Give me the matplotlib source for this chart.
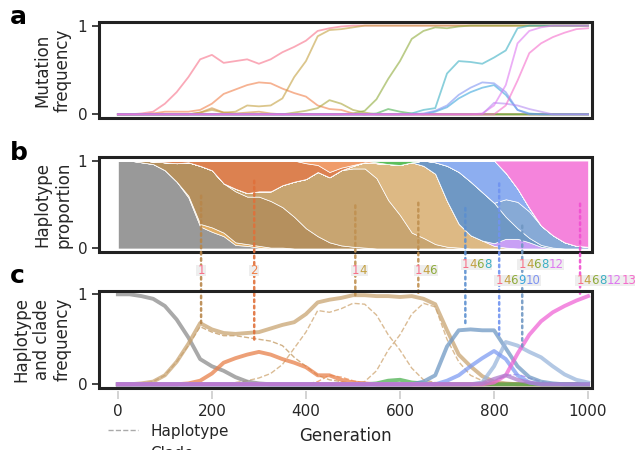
import matplotlib
matplotlib.use("Agg")
import matplotlib.pyplot as plt
from matplotlib.patches import Rectangle, ConnectionPatch
from matplotlib.lines import Line2D
from matplotlib.transforms import Bbox

# sampling grid (generations)
gens = list(range(0, 1001, 25))

# ---- panel a: mutation frequencies
mut1 = [0, 0, 0.01, 0.03, 0.12, 0.25, 0.42, 0.62, 0.67, 0.58, 0.6, 0.62, 0.57, 0.62, 0.7, 0.76,
        0.83, 0.94, 0.97, 0.99, 1] + [1] * 20
mut2 = [0, 0, 0, 0.01, 0.03, 0.03, 0.03, 0.05, 0.12, 0.23, 0.28, 0.33, 0.36, 0.35, 0.29, 0.24,
        0.2, 0.1, 0.06, 0.05, 0.01] + [0] * 20
mut3 = [0, 0, 0, 0, 0, 0, 0, 0.02, 0.07, 0.02, 0.01, 0.02, 0.03, 0.01] + [0] * 27
mut4 = [0, 0, 0, 0, 0, 0, 0, 0.02, 0.05, 0.02, 0.03, 0.1, 0.09, 0.1, 0.18, 0.42, 0.6, 0.88,
        0.95, 0.96, 0.98] + [1] * 20
mut5 = [0] * 15 + [0.02, 0.04, 0.07, 0.16, 0.12, 0.05, 0.02] + [0] * 19
mut6 = [0] * 20 + [0.01, 0.04, 0.17, 0.4, 0.6, 0.85, 0.94, 0.98, 0.97, 0.99] + [1] * 11
mut7 = [0] * 22 + [0.01, 0.06, 0.03, 0.01] + [0] * 15
mut8 = [0] * 25 + [0.01, 0.05, 0.07, 0.46, 0.6, 0.59, 0.57, 0.64, 0.72, 0.97] + [1] * 6
mut9 = [0] * 27 + [0.03, 0.08, 0.18, 0.25, 0.3, 0.33, 0.22, 0.05, 0.01] + [0] * 5
mut10 = [0] * 26 + [0.01, 0.04, 0.1, 0.22, 0.3, 0.36, 0.35, 0.25, 0.05] + [0] * 6
mut11 = [0] * 32 + [0.13, 0.12, 0.1, 0.06, 0.03] + [0] * 4
mut12 = [0] * 31 + [0.01, 0.1, 0.33, 0.8, 0.94, 0.98] + [1] * 4
mut13 = [0] * 33 + [0.1, 0.38, 0.69, 0.8, 0.87, 0.92, 0.96, 0.97]
mutations = [mut1, mut2, mut3, mut4, mut5, mut6, mut7, mut8, mut9, mut10, mut11, mut12, mut13]

mcol = {1: '#f77189', 2: '#f0804a', 3: '#d09040', 4: '#c4a040', 5: '#aaa53a', 6: '#8fab3b',
        7: '#4cb050', 8: '#3cb0c4', 9: '#3aa6dc', 10: '#7f94f2', 11: '#b58cf2', 12: '#de78f0',
        13: '#f56ccc'}

# ---- panel b: haplotype proportions (stack order bottom -> top)
hap_wt = [1, 1, 0.98, 0.96, 0.89, 0.76, 0.58, 0.25, 0.19, 0.14, 0.04, 0.03, 0.01] + [0] * 28
hap_13 = [0] * 6 + [0.02, 0.03, 0.05, 0.04, 0.03, 0.02, 0.02, 0.01, 0.01] + [0] * 26
hap_1 = [0, 0, 0.02, 0.03, 0.09, 0.21, 0.38, 0.66, 0.65, 0.56, 0.58, 0.54, 0.56, 0.53, 0.46,
         0.36, 0.23, 0.14, 0.07, 0.035, 0.02, 0.01] + [0] * 19
hap_14 = [0] * 10 + [0.03, 0.04, 0.06, 0.11, 0.25, 0.40, 0.56, 0.73, 0.74, 0.855, 0.89, 0.90,
                     0.80, 0.55, 0.38, 0.18, 0.12, 0.05, 0.02, 0.01] + [0] * 11
hap_146 = [0] * 20 + [0.03, 0.07, 0.17, 0.41, 0.57, 0.80, 0.82, 0.80, 0.52, 0.27, 0.15, 0.09,
                      0.03, 0.01] + [0] * 7
hap_146811 = [0] * 32 + [0.03, 0.10, 0.11, 0.07, 0.02] + [0] * 4
hap_1468 = [0] * 26 + [0.06, 0.13, 0.40, 0.59, 0.61, 0.55, 0.46, 0.25, 0.12, 0.05, 0.02,
                       0.01] + [0] * 3
hap_146812 = [0] * 33 + [0.20, 0.30, 0.30, 0.22, 0.14, 0.07, 0.03, 0.02]
hap_146910 = [0] * 27 + [0.02, 0.06, 0.13, 0.24, 0.36, 0.48, 0.30, 0.15, 0.04] + [0] * 5
hap_2 = [0, 0, 0, 0.01, 0.02, 0.03, 0.02, 0.06, 0.11, 0.26, 0.32, 0.37, 0.35, 0.35, 0.28, 0.24,
         0.18, 0.08, 0.06, 0.03, 0.01] + [0] * 20
hap_145 = [0] * 16 + [0.03, 0.05, 0.13, 0.08, 0.05, 0.02, 0.01] + [0] * 18
hap_1467 = [0] * 22 + [0.02, 0.04, 0.05, 0.02] + [0] * 15
hap_14681213 = [0] * 33 + [0.14, 0.32, 0.54, 0.74, 0.85, 0.93, 0.97, 0.98]
haplotypes = [hap_wt, hap_13, hap_1, hap_14, hap_146, hap_146811, hap_1468, hap_146812,
              hap_146910, hap_2, hap_145, hap_1467, hap_14681213]
hcols = ['#999999', '#e1ad63', '#b5905e', '#c8a571', '#ddb984', '#c8a0f5', '#6f98c4',
         '#87aad6', '#8daef0', '#dc8150', '#f09c6a', '#5cbf5c', '#f584dc']

# ---- panel c: clade (solid) and haplotype (dashed) frequencies
clade_wt = [1, 1, 0.98, 0.95, 0.87, 0.72, 0.52, 0.28, 0.2, 0.15, 0.08, 0.03, 0.01] + [0] * 28
clade_1 = [0, 0, 0.01, 0.03, 0.1, 0.25, 0.45, 0.68, 0.61, 0.57, 0.56, 0.57, 0.58, 0.62, 0.66,
           0.69, 0.78, 0.91, 0.94, 0.96, 0.99, 0.99, 0.98, 0.98, 0.97, 0.98, 0.95, 0.89, 0.6,
           0.33, 0.2, 0.09, 0.03, 0.01] + [0] * 7
clade_2 = [0] * 6 + [0.01, 0.04, 0.12, 0.24, 0.29, 0.33, 0.36, 0.33, 0.28, 0.24, 0.19, 0.1,
                    0.1, 0.05, 0.02, 0.01] + [0] * 19
clade_7 = [0] * 22 + [0.01, 0.04, 0.05, 0.02, 0.01] + [0] * 14
clade_1468 = [0] * 26 + [0.03, 0.1, 0.42, 0.6, 0.61, 0.6, 0.6, 0.4, 0.2, 0.08, 0.03, 0.01] + [0] * 3
clade_146812 = [0] * 31 + [0.02, 0.2, 0.47, 0.43, 0.36, 0.3, 0.2, 0.11, 0.05, 0.02]
clade_146910 = [0] * 28 + [0.04, 0.1, 0.2, 0.29, 0.37, 0.28, 0.1, 0.02] + [0] * 5
clade_11 = [0] * 31 + [0.01, 0.06, 0.1, 0.05, 0.02] + [0] * 5
clade_13 = [0] * 32 + [0.02, 0.1, 0.34, 0.55, 0.7, 0.8, 0.87, 0.93, 0.98]
clades = [clade_wt, clade_1, clade_2, clade_7, clade_1468, clade_146812, clade_146910,
          clade_13, clade_11]
ccols = ['#8c8c8c', '#c9a472', '#e8804a', '#4cb050', '#6f98c4', '#9ab6dc', '#7f9cf2',
         '#f066d6', '#b07ccc']

dhap_1 = [0, 0, 0.01, 0.03, 0.1, 0.25, 0.43, 0.64, 0.58, 0.54, 0.54, 0.52, 0.5, 0.48, 0.43,
          0.3, 0.2, 0.1, 0.05, 0.03, 0.01] + [0] * 20
dhap_14 = [0] * 10 + [0.02, 0.04, 0.07, 0.12, 0.22, 0.4, 0.58, 0.82, 0.8, 0.84, 0.9, 0.89,
                      0.77, 0.55, 0.38, 0.18, 0.05, 0.02, 0.01] + [0] * 12
dhap_146 = [0] * 21 + [0.03, 0.15, 0.38, 0.55, 0.78, 0.9, 0.86, 0.5, 0.25, 0.1, 0.04,
                       0.01] + [0] * 8
dhap_145 = [0] * 17 + [0.03, 0.1, 0.08, 0.04, 0.01] + [0] * 19
dhap_146811 = [0] * 32 + [0.03, 0.1, 0.11, 0.07, 0.03, 0.01] + [0] * 3
dashed = [dhap_1, dhap_14, dhap_146, dhap_145, dhap_146811]
dcols = ['#c9a472', '#d4b082', '#d4b082', '#f09c6a', '#b58cf2']

# ---- labelled clades
lab_muts = [[1], [2], [1, 4], [1, 4, 6], [1, 4, 6, 8], [1, 4, 6, 9, 10], [1, 4, 6, 8, 12],
            [1, 4, 6, 8, 12, 13]]
lab_gen = [177, 290, 505, 639, 739, 811, 860, 983]
lab_yb = [0.6, 0.77, 0.49, 0.52, 0.46, 0.74, 0.26, 0.51]
lab_yc = [0.68, 0.46, 0.99, 0.99, 0.65, 0.55, 0.42, 1.0]
lab_y = [1.263, 1.263, 1.263, 1.263, 1.335, 1.151, 1.335, 1.151]
lab_cols = ['#b8864a', '#e0703a', '#c09050', '#c09050', '#5b8fd0', '#6f93f0', '#6f97c3',
            '#f050d0']

dark = '#262626'
plt.rcParams['font.family'] = 'DejaVu Sans'
fig = plt.figure(figsize=(6.35, 4.5), dpi=100)
ax_a = fig.add_axes([0.156, 0.738, 0.776, 0.213])
ax_b = fig.add_axes([0.156, 0.44, 0.776, 0.211])
ax_c = fig.add_axes([0.156, 0.138, 0.776, 0.216])

for i, m in enumerate(mutations):
    ax_a.plot(gens, m, color=mcol[i + 1], lw=1.3, alpha=0.6)

ax_b.stackplot(gens, *haplotypes, colors=hcols, edgecolor='white', linewidth=0.5)

for d, c in zip(dashed, dcols):
    ax_c.plot(gens, d, color=c, lw=1, ls='--', alpha=0.85)
for cl, c in zip(clades, ccols):
    ax_c.plot(gens, cl, color=c, lw=2.8, alpha=0.75)

for ax in [ax_a, ax_b, ax_c]:
    ax.set_xlim(-40, 1008)
    ax.set_ylim(-0.04, 1.04)
    ax.set_yticks([0, 1])
    for s in ax.spines.values():
        s.set_visible(False)
    ax.add_patch(Rectangle((0, 0), 1, 1, transform=ax.transAxes, fill=False, ec='#222222',
                           lw=2.2, clip_on=False, zorder=10))
    ax.tick_params(axis='y', length=5, width=1.2, color='#222222', labelsize=11,
                   labelcolor=dark)
    ax.tick_params(axis='x', bottom=False, labelbottom=False)

ax_c.spines['bottom'].set_position(('outward', 2))
ax_c.set_xticks([0, 200, 400, 600, 800, 1000])
ax_c.tick_params(axis='x', bottom=True, labelbottom=True, length=6, width=1.2,
                 color='#cccccc', labelsize=11, labelcolor=dark)
ax_c.set_xlabel('Generation', fontsize=12, color=dark, labelpad=6)

ax_a.set_ylabel('Mutation\nfrequency', fontsize=12, color=dark)
ax_b.set_ylabel('Haplotype\nproportion', fontsize=12, color=dark)
ax_c.set_ylabel('Haplotype\nand clade\nfrequency', fontsize=12, color=dark)

# dotted connectors and coloured labels
fs = 8.5
label_pieces = []
for muts, g, yb, yc, yl, lc in zip(lab_muts, lab_gen, lab_yb, lab_yc, lab_y, lab_cols):
    con = ConnectionPatch(xyA=(g, yb), coordsA=ax_b.transData, xyB=(g, yc),
                          coordsB=ax_c.transData, color=lc, lw=1.8, ls=(0, (1, 1.5)),
                          alpha=0.9, zorder=4)
    ax_c.add_artist(con)
    con.set_clip_on(False)
    pieces = []
    prev = None
    for m in muts:
        if prev is None:
            prev = ax_c.annotate(str(m), xy=(g, yl), xytext=(-2.7, 0),
                                 textcoords='offset points', ha='left', va='center',
                                 fontsize=fs, color=mcol[m], annotation_clip=False, zorder=7)
        else:
            prev = ax_c.annotate(str(m), xy=(1, 0), xycoords=prev, ha='left', va='bottom',
                                 fontsize=fs, color=mcol[m], annotation_clip=False, zorder=7)
        pieces.append(prev)
    label_pieces.append(pieces)

for letter, y in zip(['a', 'b', 'c'], [0.947, 0.644, 0.371]):
    fig.text(0.016, y, letter, fontsize=18, fontweight='bold', va='baseline', color='black')

h_hap = Line2D([], [], color='#aaaaaa', ls='--', lw=1)
h_cl = Line2D([], [], color='#aaaaaa', lw=2.5)
fig.legend([h_hap, h_cl], ['Haplotype', 'Clade'], loc='upper left',
           bbox_to_anchor=(0.148, 0.089), frameon=False, fontsize=11, labelcolor=dark)

# light grey boxes behind the coloured labels
fig.canvas.draw()
inv = ax_c.transAxes.inverted()
for pieces in label_pieces:
    bb = Bbox.union([p.get_window_extent() for p in pieces])
    (x0, y0), (x1, y1) = inv.transform([[bb.x0 - 1, bb.y0 + 1], [bb.x1 + 1, bb.y1 - 1]])
    ax_c.add_patch(Rectangle((x0, y0), x1 - x0, y1 - y0, transform=ax_c.transAxes,
                             fc='#eeeeee', ec='none', clip_on=False, zorder=5))

fig.savefig('out.png', dpi=100)
